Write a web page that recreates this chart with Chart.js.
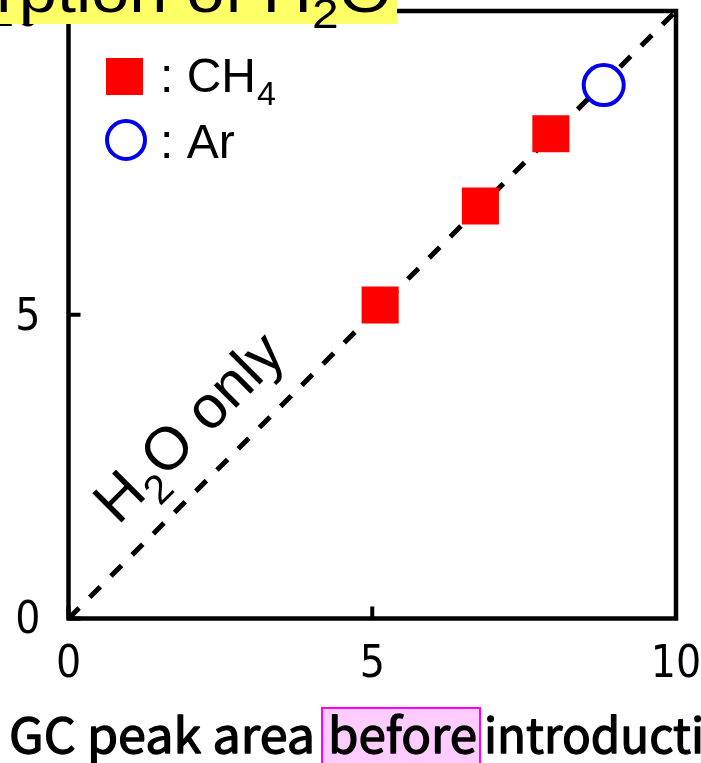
<!DOCTYPE html>
<html><head><meta charset="utf-8">
<script src="https://cdn.jsdelivr.net/npm/chart.js@4/dist/chart.umd.min.js"></script>
<style>html,body{margin:0;padding:0;background:#fff;overflow:hidden}canvas{display:block}</style>
</head><body>
<canvas id="c" width="701" height="763"></canvas>
<script>
// ---- data ----
const ch4X = [5.13, 6.78, 7.94];
const ch4Y = [5.16, 6.79, 7.98];
const arX = [8.81];
const arY = [8.78];
const h2oOnlyX = [0, 10];
const h2oOnlyY = [0, 10];
const xTickValues = [0, 5, 10];
const yTickValues = [0, 5, 10];
const seriesLabels = ['CH4', 'Ar', 'H2O only'];
const xTitleParts = ['GC peak area', 'before', 'introduction'];
const topTitleParts = ['rption of H', '2', 'O'];

const pts = (xs, ys) => xs.map((v, i) => ({x: v, y: ys[i]}));
const SANS = '"Liberation Sans", Arial, sans-serif';
const TICKFONT = '"Liberation Sans Narrow", "DejaVu Sans Condensed", sans-serif';
const GOTHIC = '"Noto Sans CJK JP", "Noto Sans", sans-serif';

const decor = {
  id: 'decor',
  beforeDraw(chart) {
    // nudge y tick labels slightly downward, as in the reference
    const s = chart.scales.y;
    if (s && !s._nudged) {
      const orig = s.drawLabels.bind(s);
      s.drawLabels = (ca) => { chart.ctx.save(); chart.ctx.translate(0, 3.5); orig(ca); chart.ctx.restore(); };
      s._nudged = true;
    }
  },
  afterDraw(chart) {
    const {ctx, chartArea: a, scales: {x, y}} = chart;
    ctx.save();
    // frame + inward ticks
    ctx.strokeStyle = '#000';
    ctx.lineWidth = 4.5;
    ctx.strokeRect(a.left, a.top, a.right - a.left, a.bottom - a.top);
    ctx.lineWidth = 4;
    ctx.beginPath();
    yTickValues.forEach(v => { const p = y.getPixelForValue(v); ctx.moveTo(a.left, p); ctx.lineTo(a.left + 12, p); });
    xTickValues.forEach(v => { const p = x.getPixelForValue(v); ctx.moveTo(p, a.bottom); ctx.lineTo(p, a.bottom - 12); });
    ctx.stroke();

    ctx.fillStyle = '#000';
    ctx.textAlign = 'left';
    ctx.textBaseline = 'alphabetic';

    // "H2O only" label along the diagonal
    ctx.save();
    ctx.translate(118, 526);
    ctx.rotate(-Math.PI / 4);
    ctx.font = '60px ' + SANS;
    let u = 0;
    ctx.fillText('H', u, 0); u += ctx.measureText('H').width;
    ctx.font = '41px ' + SANS;
    ctx.fillText('2', u, 16); u += ctx.measureText('2').width;
    ctx.font = '60px ' + SANS;
    ctx.fillText('O only', u, 0);
    ctx.restore();

    // legend
    const ds0 = chart.data.datasets[0], ds1 = chart.data.datasets[1];
    ctx.fillStyle = ds0.backgroundColor;
    ctx.fillRect(106, 58, 37, 37);
    ctx.beginPath();
    ctx.arc(126, 140, 19, 0, Math.PI * 2);
    ctx.fillStyle = '#fff'; ctx.fill();
    ctx.strokeStyle = ds1.borderColor; ctx.lineWidth = 4; ctx.stroke();
    ctx.fillStyle = '#000';
    ctx.font = '48px ' + SANS;
    ctx.fillText(': CH', 160, 92);
    const w1 = ctx.measureText(': CH').width;
    ctx.font = '34px ' + SANS;
    ctx.fillText('4', 160 + w1 + 1, 105);
    ctx.font = '48px ' + SANS;
    ctx.fillText(': Ar', 160, 158);

    // x axis title with highlighted word
    ctx.font = '48px ' + GOTHIC;
    const drawFit = (txt, fitTxt, x0, width, base) => {
      const sx = width / ctx.measureText(fitTxt).width;
      ctx.save(); ctx.translate(x0, base); ctx.scale(sx, 1);
      ctx.lineWidth = 1.3; ctx.strokeStyle = '#000'; ctx.lineJoin = 'round';
      ctx.fillText(txt, 0, 0); ctx.strokeText(txt, 0, 0);
      ctx.restore();
    };
    ctx.fillStyle = '#ffccff';
    ctx.fillRect(322, 708, 158, 60);
    ctx.strokeStyle = '#ff00ff'; ctx.lineWidth = 2;
    ctx.strokeRect(322, 708, 158, 60);
    ctx.fillStyle = '#000';
    drawFit(xTitleParts[0], xTitleParts[0], 9, 306, 753);
    drawFit(xTitleParts[1], xTitleParts[1], 328, 149, 753);
    drawFit(xTitleParts[2], 'introducti', 484, 220, 753);

    // top title (clipped by the page edge)
    ctx.fillStyle = '#ffff66';
    ctx.fillRect(0, 0, 397, 24);
    ctx.fillStyle = '#000';
    ctx.font = '60px ' + SANS;
    const wa = ctx.measureText(topTitleParts[0]).width;
    ctx.font = '42px ' + SANS;
    const wb = ctx.measureText(topTitleParts[1]).width;
    ctx.font = '60px ' + SANS;
    const wc = ctx.measureText(topTitleParts[2]).width;
    const tsx = 396 / (wa + wb + wc);
    ctx.save();
    ctx.translate(-4, 12);
    ctx.scale(tsx, 1);
    ctx.font = '60px ' + SANS; ctx.fillText(topTitleParts[0], 0, 0);
    ctx.font = '42px ' + SANS; ctx.fillText(topTitleParts[1], wa, 16);
    ctx.font = '60px ' + SANS; ctx.fillText(topTitleParts[2], wa + wb, 0);
    ctx.restore();

    ctx.restore();
  }
};

new Chart(document.getElementById('c'), {
  type: 'scatter',
  data: {
    datasets: [
      { label: seriesLabels[0], data: pts(ch4X, ch4Y), pointStyle: 'rect', pointRadius: 26.2,
        backgroundColor: '#ff0000', borderWidth: 0, order: 1 },
      { label: seriesLabels[1], data: pts(arX, arY), pointStyle: 'circle', pointRadius: 20,
        backgroundColor: '#ffffff', borderColor: '#0000ee', borderWidth: 4, order: 1 },
      { label: seriesLabels[2], data: pts(h2oOnlyX, h2oOnlyY), showLine: true, borderColor: '#000',
        borderWidth: 5, borderDash: [15, 15], pointRadius: 0, fill: false, order: 2 }
    ]
  },
  options: {
    responsive: false, animation: false, devicePixelRatio: 1, events: [],
    layout: { autoPadding: false, padding: { top: 11, right: 25, left: 0, bottom: 0 } },
    plugins: { legend: { display: false }, tooltip: { enabled: false }, title: { display: false } },
    scales: {
      x: {
        type: 'linear', min: 0, max: 10,
        afterBuildTicks: s => { s.ticks = xTickValues.map(v => ({value: v})); },
        grid: { display: false, drawTicks: false }, border: { display: false },
        ticks: { font: { family: TICKFONT, size: 44 }, color: '#000', padding: 21, maxRotation: 0, autoSkip: false },
        afterFit: s => { s.height = 144.5; s.paddingLeft = 0; s.paddingRight = 0; }
      },
      y: {
        type: 'linear', min: 0, max: 10,
        afterBuildTicks: s => { s.ticks = yTickValues.map(v => ({value: v})); },
        grid: { display: false, drawTicks: false }, border: { display: false },
        ticks: { font: { family: TICKFONT, size: 44 }, color: '#000', padding: 28, autoSkip: false },
        afterFit: s => { s.width = 68.5; s.paddingTop = 0; s.paddingBottom = 0; }
      }
    }
  },
  plugins: [decor]
});
</script>
</body></html>
